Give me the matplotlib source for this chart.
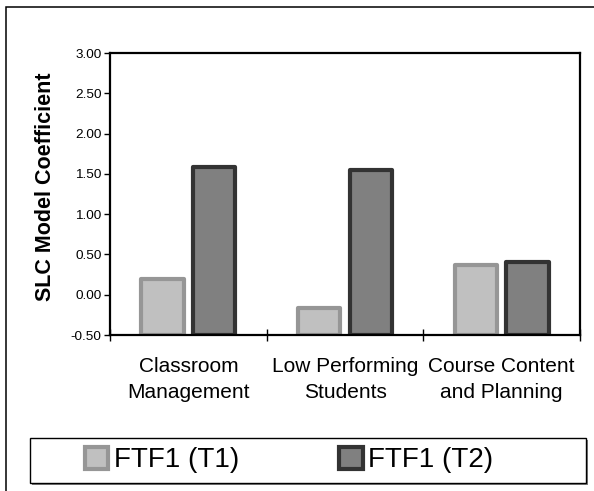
import numpy as np
import matplotlib.pyplot as plt
from matplotlib.patches import Rectangle

plt.rcParams['font.family'] = ['Liberation Sans', 'DejaVu Sans']

categories = ["Classroom\nManagement", "Low Performing\nStudents", "Course Content\nand Planning"]
series_names = ["FTF1 (T1)", "FTF1 (T2)"]
t1_values = [0.20, -0.17, 0.37]
t2_values = [1.58, 1.55, 0.40]
y_ticks = [-0.5, 0.0, 0.5, 1.0, 1.5, 2.0, 2.5, 3.0]

fills = ["#c0c0c0", "#808080"]
edges = ["#969696", "#333333"]
base = -0.5

fig = plt.figure(figsize=(5.94, 4.91), dpi=100)
ax = fig.add_axes([110 / 594, 1 - 335 / 491, 470 / 594, 282 / 491])

x = np.arange(len(categories))
width = 0.27
offset = 0.165
for i, vals in enumerate([t1_values, t2_values]):
    heights = np.array(vals) - base
    ax.bar(x + (i * 2 - 1) * offset, heights, width, bottom=base,
           color=fills[i], edgecolor=edges[i], linewidth=3.0,
           joinstyle='round', label=series_names[i], zorder=2)

ax.set_xlim(-0.5, 2.5)
ax.set_ylim(-0.5, 3.0)
ax.set_yticks(y_ticks)
ax.set_yticklabels(["%.2f" % v for v in y_ticks], fontsize=9.7)
ax.tick_params(axis='y', direction='out', length=4, width=1, pad=2)

ax.set_xticks(x)
ax.set_xticklabels(categories, fontsize=15, linespacing=1.42)
ax.tick_params(axis='x', length=0, pad=16)
ax.set_xticks([-0.5, 0.5, 1.5, 2.5], minor=True)
ax.tick_params(axis='x', which='minor', direction='inout', length=9, width=1)

for sp in ax.spines.values():
    sp.set_linewidth(1.6)
    sp.set_zorder(3)

ax.set_ylabel("SLC Model Coefficient", fontsize=15.5, fontweight='bold')
ax.yaxis.set_label_coords(-0.115, 0.527)

# outer chart frame, runs off the right and bottom edges
fig.patches.append(Rectangle((6 / 594, -0.1), 1.2, 1 - 7 / 491 + 0.1,
                             transform=fig.transFigure, fill=False,
                             edgecolor='black', linewidth=1.1, zorder=0))

# legend box with a gray shadow
lx, ly, lw, lh = 30 / 594, 1 - 483 / 491, 556 / 594, 45 / 491
fig.patches.append(Rectangle((lx + 2 / 594, ly - 2 / 491), lw, lh,
                             transform=fig.transFigure, facecolor='#808080',
                             edgecolor='none', zorder=1))
fig.patches.append(Rectangle((lx, ly), lw, lh, transform=fig.transFigure,
                             facecolor='white', edgecolor='black',
                             linewidth=1.0, zorder=1.5))

handles, labels = ax.get_legend_handles_labels()
leg = fig.legend(handles, labels, loc='center', ncol=2,
                 bbox_to_anchor=(289 / 594, 1 - 460 / 491),
                 frameon=False, fontsize=20, handlelength=0.85,
                 handleheight=0.85, handletextpad=0.2, columnspacing=3.6,
                 borderpad=0)

fig.savefig("out.png", dpi=100)
